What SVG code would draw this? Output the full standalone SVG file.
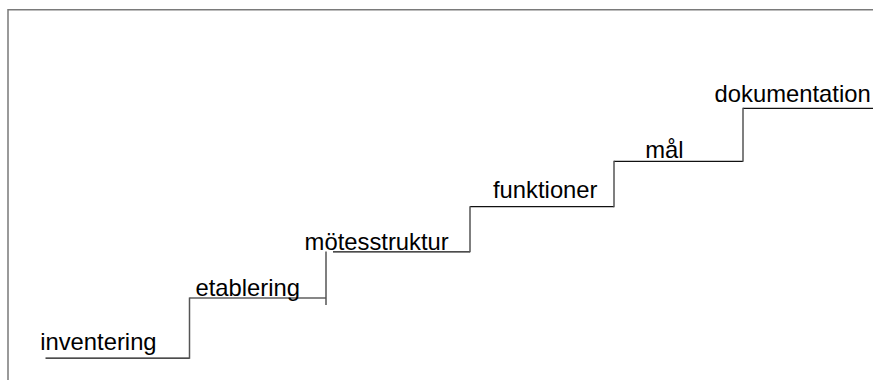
<svg xmlns="http://www.w3.org/2000/svg" width="873" height="380" viewBox="0 0 873 380">
<style>
.frame{fill:none;stroke:#7a7a7a;stroke-width:1.5}
.tread{fill:none;stroke:#111;stroke-width:1.2}
.riser{fill:none;stroke:#555;stroke-width:1.5}
.lbl{font-family:"Liberation Sans",Arial,Helvetica,sans-serif;font-size:23.8px;fill:#000}
</style>
<rect width="873" height="380" fill="#fff"/>
<path class="frame" d="M8,380 V9.75 H873"/>
<g id="inventering">
<line class="tread" x1="45.5" y1="358.2" x2="189.5" y2="358.2"/>
<text class="lbl" x="40.2" y="349.5">inventering</text>
</g>
<g id="etablering">
<line class="tread" x1="189.5" y1="298" x2="326" y2="298"/>
<text class="lbl" x="195.5" y="296">etablering</text>
</g>
<g id="motesstruktur">
<line class="tread" x1="333" y1="251.8" x2="470" y2="251.8"/>
<text class="lbl" x="304.6" y="250">mötesstruktur</text>
</g>
<g id="funktioner">
<line class="tread" x1="470" y1="206.7" x2="614" y2="206.7"/>
<text class="lbl" x="493" y="197.5">funktioner</text>
</g>
<g id="mal">
<line class="tread" x1="614" y1="161.3" x2="743" y2="161.3"/>
<text class="lbl" x="645.3" y="157.5">mål</text>
</g>
<g id="dokumentation">
<line class="tread" x1="743" y1="108.3" x2="873" y2="108.3"/>
<text class="lbl" x="714.6" y="101.5">dokumentation</text>
</g>
<g id="connectors">
<line class="riser" x1="189.5" y1="358.8" x2="189.5" y2="297.5"/>
<line class="riser" x1="326" y1="305" x2="326" y2="251.5"/>
<line class="riser" x1="470" y1="252.3" x2="470" y2="206.2"/>
<line class="riser" x1="614" y1="207.2" x2="614" y2="160.8"/>
<line class="riser" x1="743" y1="161.8" x2="743" y2="107.8"/>
</g>
</svg>
